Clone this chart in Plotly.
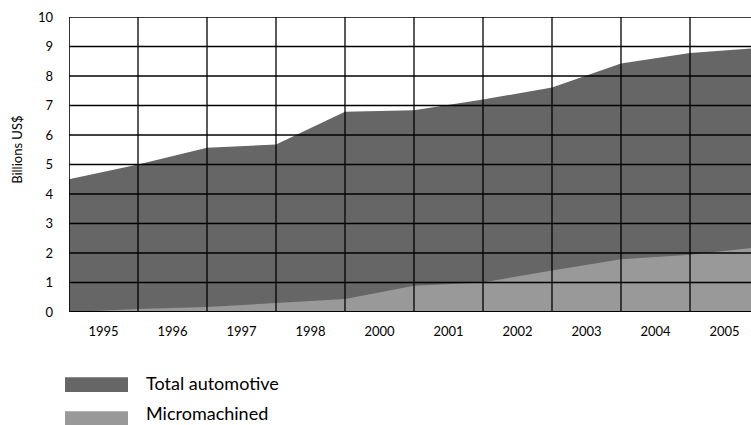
import plotly.graph_objects as go

years = ["1995", "1996", "1997", "1998", "2000", "2001", "2002", "2003", "2004", "2005"]
total_automotive = [4.5, 5.0, 5.57, 5.68, 6.79, 6.84, 7.2, 7.61, 8.42, 8.78, 8.95]
micromachined = [0.0, 0.1, 0.17, 0.3, 0.44, 0.89, 1.0, 1.41, 1.79, 1.94, 2.2]
y_ticks = [0, 1, 2, 3, 4, 5, 6, 7, 8, 9, 10]
series_names = ["Total automotive", "Micromachined"]
y_title = "Billions US$"

DARK = "#666666"
LIGHT = "#999999"
FONT = "Lato"

W, H = 751, 425
ML, MT, MR = 69, 17, 0
MB = H - 312.3
PW, PH = W - ML - MR, H - MT - MB

xs = list(range(len(total_automotive)))

fig = go.Figure()
fig.add_trace(go.Scatter(x=xs, y=total_automotive, mode="lines", line=dict(width=0),
                         fill="tozeroy", fillcolor=DARK, name=series_names[0],
                         showlegend=False, hoverinfo="skip"))
fig.add_trace(go.Scatter(x=xs, y=micromachined, mode="lines", line=dict(width=0),
                         fill="tozeroy", fillcolor=LIGHT, name=series_names[1],
                         showlegend=False, hoverinfo="skip"))

x_max = PW / 69.0
shapes = []
for v in y_ticks:
    shapes.append(dict(type="line", xref="paper", yref="y", x0=0, x1=1, y0=v, y1=v,
                       line=dict(color="black", width=2 if v == 0 else 1.3), layer="above"))
for i in range(len(years)):
    shapes.append(dict(type="line", xref="x", yref="paper", x0=i, x1=i, y0=0, y1=1,
                       line=dict(color="black", width=1.6 if i == 0 else 1.3), layer="above"))

def px_to_paper_x(px):
    return (px - ML) / PW

def px_to_paper_y(py):
    return (H - MB - py) / PH

annotations = []
legend_rows = [(series_names[0], DARK, 377.7, 392.3, 395), (series_names[1], LIGHT, 411.7, 426.3, 425)]
for name, col, ytop, ybot, ytext in legend_rows:
    shapes.append(dict(type="rect", xref="paper", yref="paper",
                       x0=px_to_paper_x(65), x1=px_to_paper_x(128),
                       y0=px_to_paper_y(ybot), y1=px_to_paper_y(ytop),
                       fillcolor=col, line=dict(width=0), layer="above"))
    annotations.append(dict(text=name, xref="paper", yref="paper",
                            x=px_to_paper_x(145), y=px_to_paper_y(ytext),
                            xanchor="left", yanchor="bottom", showarrow=False,
                            borderpad=0,
                            font=dict(family=FONT, size=18, color="black")))

annotations.append(dict(text=y_title, xref="paper", yref="paper",
                        x=px_to_paper_x(17), y=px_to_paper_y(150),
                        xanchor="center", yanchor="middle", showarrow=False, textangle=-90,
                        font=dict(family=FONT, size=13, color="black")))

fig.update_layout(
    width=W, height=H,
    margin=dict(l=ML, r=MR, t=MT, b=MB, pad=0),
    paper_bgcolor="white", plot_bgcolor="white",
    showlegend=False,
    shapes=shapes, annotations=annotations,
    font=dict(family=FONT, size=13, color="black"),
    xaxis=dict(range=[0, x_max], showgrid=False, zeroline=False, showline=False,
               tickmode="array", tickvals=[i + 0.5 for i in range(len(years))],
               ticktext=years, ticks="", ticklabelstandoff=10,
               tickfont=dict(family=FONT, size=13, color="black"), fixedrange=True),
    yaxis=dict(range=[0, 10], showgrid=False, zeroline=False, showline=False,
               tickmode="array", tickvals=y_ticks, ticktext=[str(v) for v in y_ticks],
               ticks="", ticklabelstandoff=15,
               tickfont=dict(family=FONT, size=13, color="black"), fixedrange=True),
)

# remove the default page margin so the 751x425 figure fills the window exactly
page_css = "document.body.style.margin='0';document.body.style.overflow='hidden';"
fig.write_html("out.html", post_script=page_css, config={"displayModeBar": False})
